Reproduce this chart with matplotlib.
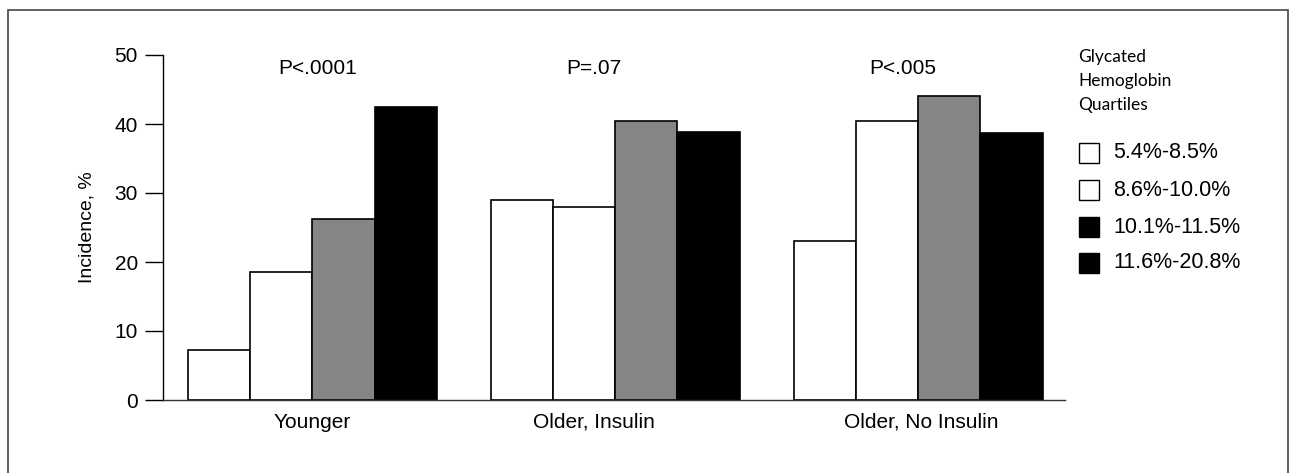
import numpy as np
import matplotlib
matplotlib.use("Agg")
import matplotlib.pyplot as plt
from matplotlib.patches import Rectangle

# data
groups = ["Younger", "Older, Insulin", "Older, No Insulin"]
p_values = ["P<.0001", "P=.07", "P<.005"]
quartiles = ["5.4%-8.5%", "8.6%-10.0%", "10.1%-11.5%", "11.6%-20.8%"]
q1 = [7.3, 29.0, 23.0]
q2 = [18.5, 28.0, 40.5]
q3 = [26.3, 40.5, 44.0]
q4 = [42.5, 38.8, 38.7]

series = [q1, q2, q3, q4]
bar_colors = ["white", "white", "#858585", "black"]
legend_colors = ["white", "white", "black", "black"]

plt.rcParams["font.family"] = ["Liberation Sans", "DejaVu Sans"]

fig = plt.figure(figsize=(12.96, 4.73), dpi=100)
ax = fig.add_axes([163 / 1296, 73 / 473, 902 / 1296, 345 / 473])

x = np.arange(len(groups)) * 4.87
offsets = [-1.5, -0.5, 0.5, 1.5]
for vals, off, col in zip(series, offsets, bar_colors):
    ax.bar(x + off, vals, width=1.0, color=col, edgecolor="black", linewidth=1.2)

# labels are not exactly centred in the original
p_shift = [0.08, -0.35, -0.25]
lab_shift = [0.0, -0.35, 0.05]
for xi, p, dx in zip(x, p_values, p_shift):
    ax.text(xi + dx, 48, p, ha="center", va="center", fontsize=15)

ax.set_xlim(-2.4, 12.1)
ax.set_ylim(0, 50)
ax.set_yticks(range(0, 51, 10))
ax.set_xticks(x + np.array(lab_shift))
ax.set_xticklabels(groups, fontsize=15)
ax.tick_params(axis="x", length=0, pad=9)
ax.tick_params(axis="y", direction="out", length=13, width=1, labelsize=15, pad=5)
ax.set_ylabel("Incidence, %", fontsize=14, labelpad=14)
for s in ["top", "right"]:
    ax.spines[s].set_visible(False)
ax.spines["left"].set_linewidth(1)
ax.spines["bottom"].set_linewidth(1)
ax.spines["bottom"].set_color("#333333")

# legend drawn by hand
fig.text(1078 / 1296, 1 - 49 / 473, "Glycated\nHemoglobin\nQuartiles", ha="left", va="top",
         fontsize=12.5, family=["Lato", "DejaVu Sans"], linespacing=1.6)
row_y = [153, 190, 227, 263]
for lab, col, yy in zip(quartiles, legend_colors, row_y):
    fig.add_artist(Rectangle((1079 / 1296, 1 - (yy + 10) / 473), 20 / 1296, 20 / 473,
                             transform=fig.transFigure, facecolor=col, edgecolor="black",
                             linewidth=1))
    fig.text(1113 / 1296, 1 - yy / 473, lab, ha="left", va="center", fontsize=15.5)

# outer frame
fig.add_artist(Rectangle((8 / 1296, -0.1), 1280 / 1296, 1.1 - 10 / 473,
                         transform=fig.transFigure, fill=False, edgecolor="#444444",
                         linewidth=1.2))

fig.savefig("out.png", dpi=100)
